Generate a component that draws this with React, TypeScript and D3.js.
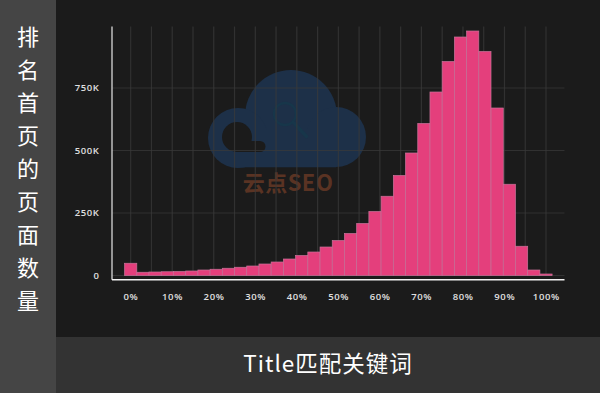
import React from "react";
import * as d3 from "d3";

const binCenters: number[] = [
  0, 2.94, 5.88, 8.82, 11.76, 14.71, 17.65, 20.59, 23.53, 26.47, 29.41, 32.35,
  35.29, 38.24, 41.18, 44.12, 47.06, 50.0, 52.94, 55.88, 58.82, 61.76, 64.71,
  67.65, 70.59, 73.53, 76.47, 79.41, 82.35, 85.29, 88.24, 91.18, 94.12, 97.06, 100,
];
const pageCounts: number[] = [
  49000, 13000, 14000, 15000, 16000, 18000, 22000, 25000, 29000, 33000, 38000,
  46000, 54000, 66000, 80000, 94000, 114000, 140000, 168000, 208000, 256000,
  317000, 400000, 490000, 608000, 734000, 856000, 954000, 978000, 896000,
  670000, 365000, 117000, 22000, 6000,
];
const yTickValues: number[] = [0, 250000, 500000, 750000];
const yTickLabels: string[] = ["0", "250K", "500K", "750K"];
const xTickValues: number[] = [0, 10, 20, 30, 40, 50, 60, 70, 80, 90, 100];
const xGridValues: number[] = d3.range(0, 101, 5);
const yAxisTitle: string[] = ["排", "名", "首", "页", "的", "页", "面", "数", "量"];
const xAxisTitle = "Title匹配关键词";
const binWidth = 100 / 34;

const W = 600;
const H = 393;

export default function App() {
  const x = d3.scaleLinear().domain([0, 100]).range([130.7, 546]);
  const y = d3.scaleLinear().domain([0, 1000000]).range([275.5, 25.5]);
  const plotLeft = 112;
  const plotRight = 564.5;
  const axisY = 279.8;
  const tickFont = "'Open Sans', 'DejaVu Sans', sans-serif";
  const cjk = "'Noto Sans CJK SC', 'Noto Sans', sans-serif";
  const bg = "#1b1b1b";

  return (
    <svg
      width={W}
      height={H}
      style={{ position: "absolute", left: 0, top: 0, display: "block" }}
    >
      {/* backgrounds */}
      <rect x={0} y={0} width={W} height={H} fill={bg} />
      <rect x={56} y={337} width={W - 56} height={H - 337} fill="#333333" />
      <rect x={0} y={0} width={56} height={H} fill="#454545" />

      {/* watermark */}
      <g>
        <g fill="#1d3048">
          <circle cx={291} cy={116} r={46} />
          <circle cx={238} cy={138} r={30} />
          <circle cx={336} cy={137} r={30} />
          <rect x={238} y={130} width={98} height={37.3} />
        </g>
        <circle cx={237} cy={137} r={15} fill={bg} />
        <rect x={237} y={141} width={23} height={11} fill={bg} />
        <circle cx={260} cy={146.5} r={5.5} fill={bg} />
        <circle cx={285} cy={114} r={11} fill="none" stroke="#17364a" strokeWidth={2.4} />
        <line x1={293} y1={122} x2={306.5} y2={136.5} stroke="#17364a" strokeWidth={3.4} strokeLinecap="round" />
        <text
          x={288}
          y={190.5}
          textAnchor="middle"
          fill="#5a3323"
          fontFamily={"'Noto Sans CJK SC', sans-serif"}
          fontWeight={700}
          fontSize={22}
          letterSpacing={0.5}
        >
          云点SEO
        </text>
      </g>

      {/* grid (drawn over watermark, semi-transparent) */}
      {yTickValues.map((v) => (
        <line
          key={"hg" + v}
          x1={plotLeft}
          x2={plotRight}
          y1={y(v)}
          y2={y(v)}
          stroke="#3a3a3a"
          strokeOpacity={0.75}
          strokeWidth={1.2}
        />
      ))}
      {xGridValues.map((v) => (
        <line
          key={"vg" + v}
          x1={x(v)}
          x2={x(v)}
          y1={y(1000000) + 1}
          y2={y(0)}
          stroke="#3a3a3a"
          strokeOpacity={0.75}
          strokeWidth={1.2}
        />
      ))}

      {/* bars */}
      {pageCounts.map((v, i) => (
        <rect
          key={"b" + i}
          x={x(binCenters[i] - binWidth / 2)}
          y={y(v)}
          width={x(binWidth) - x(0)}
          height={y(0) - y(v)}
          fill="#e43f7c"
          stroke="#c8739a"
          strokeWidth={0.7}
        />
      ))}

      {/* axes */}
      <line x1={plotLeft} x2={plotLeft} y1={26.5} y2={axisY} stroke="#d8d8d8" strokeWidth={1.3} />
      <line x1={plotLeft} x2={plotRight} y1={axisY} y2={axisY} stroke="#f2f2f2" strokeWidth={1.6} />

      {yTickValues.map((v, i) => (
        <text
          key={"yt" + v}
          x={99.5}
          y={y(v) + 3.4}
          textAnchor="end"
          fill="#e0e0e0"
          fontFamily={tickFont}
          fontWeight={600}
          fontSize={9.5}
          letterSpacing={0.6}
        >
          {yTickLabels[i]}
        </text>
      ))}
      {xTickValues.map((v) => (
        <text
          key={"xt" + v}
          x={x(v) + 0.3}
          y={299.5}
          textAnchor="middle"
          fill="#e0e0e0"
          fontFamily={tickFont}
          fontWeight={600}
          fontSize={9.5}
          letterSpacing={0.6}
        >
          {v + "%"}
        </text>
      ))}

      {/* titles */}
      {yAxisTitle.map((c, i) => (
        <text
          key={"yc" + i}
          x={28}
          y={45 + i * 33}
          textAnchor="middle"
          fill="#ffffff"
          fontFamily={cjk}
          fontSize={22}
        >
          {c}
        </text>
      ))}
      <text
        x={328}
        y={371.5}
        textAnchor="middle"
        fill="#ffffff"
        fontFamily={cjk}
        fontSize={22.5}
        letterSpacing={1}
      >
        {xAxisTitle}
      </text>
    </svg>
  );
}
